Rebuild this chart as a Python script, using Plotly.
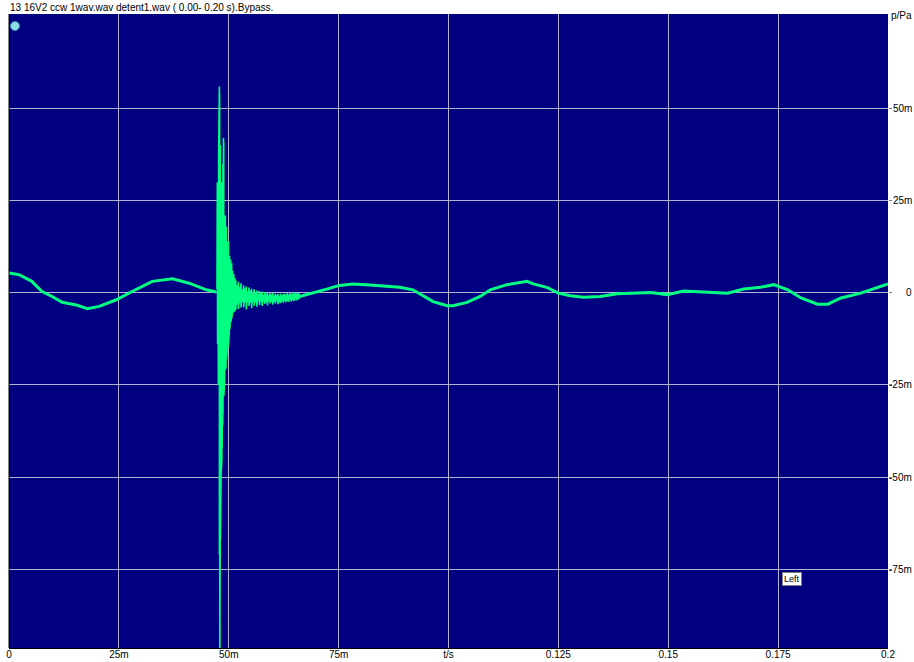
import plotly.graph_objects as go

# ---- data (time in ms, pressure in mPa) ----
pre_t = [0, 2.3, 5.2, 7.5, 9.8, 12.1, 15.3, 17.8, 20.5, 24.4, 28.0, 32.6, 37.2, 41.0, 44.9, 47.2]
pre_p = [5.4, 4.9, 3.1, 0.35, -1.0, -2.6, -3.3, -4.3, -3.7, -1.9, 0.35, 3.1, 3.8, 2.6, 0.8, 0.2]

# click burst: per-column max / min
burst_t = [47.32, 47.40, 47.46, 47.52, 47.58, 47.64, 47.70, 47.76, 47.82, 47.87, 47.92, 47.96,
           48.00, 48.05, 48.10, 48.15, 48.20, 48.26, 48.32, 48.38, 48.44, 48.50, 48.56, 48.62,
           48.68, 48.74, 48.80, 48.86, 48.92, 48.98, 49.04, 49.10, 49.16, 49.22, 49.30, 49.38,
           49.46, 49.54, 49.62, 49.70, 49.78, 49.86, 49.94, 50.02, 50.10, 50.18, 50.30, 50.42,
           50.54, 50.66, 50.78, 50.90, 51.02, 51.14, 51.26, 51.40]
burst_hi = [1, 30, 30, 28, 26, 20, 38, 45, 50, 56, 54, 52,
            50, 46, 40, 38, 35, 32, 30, 28, 25, 22, 20, 28,
            35, 40, 42, 41, 38, 20, 15, 17, 19, 21, 21, 20,
            18, 14, 11, 10, 13, 14, 14, 12, 11, 10, 9.5, 9,
            8.5, 8, 6.5, 6, 5.5, 5, 4.5, 4]
burst_lo = [-1, -13, -14, -12, -14, -25, -58, -66, -70, -71, -72, -105,
            -70, -69, -67, -62, -52, -48, -48, -46, -45, -42, -40, -36,
            -33, -30, -28, -28, -27, -26, -25, -22, -21, -21, -21, -20,
            -18, -17, -16, -15, -15, -15, -14, -12, -11, -10, -9, -8,
            -7.5, -7, -6, -5.5, -5, -5.2, -4.8, -5]

# decaying ring-out after the click
tail_t = [51.6, 51.9, 52.2, 52.5, 52.8, 53.1, 53.4, 53.7, 54.0, 54.3, 54.6, 54.9, 55.2, 55.5,
          55.8, 56.1, 56.4, 56.7, 57.0, 57.3, 57.6, 57.9, 58.2, 58.5, 58.8, 59.1, 59.4, 59.7,
          60.0, 60.3, 60.6, 60.9, 61.2, 61.5, 61.8, 62.1, 62.4, 62.7, 63.0, 63.3, 63.6, 63.9,
          64.2, 64.5, 64.8, 65.1, 65.4, 65.7, 66.0]
tail_hi = [3.4, 2.1, 3.0, 1.6, 2.6, 0.9, 2.0, 1.2, 1.7, 0.4, 1.4, 0.6, 1.1, -0.2,
           0.9, 0.1, 0.6, -0.4, 0.5, 0.0, 0.3, -0.6, 0.2, -0.3, 0.1, -0.7, -0.1, -0.5,
           0.0, -0.8, -0.2, -0.6, -0.3, -0.9, -0.2, -0.7, -0.4, -0.2, -0.6, -0.1, -0.5, 0.0,
           -0.4, -0.1, -0.3, 0.1, -0.2, 0.0, -0.1]
tail_lo = [-4.6, -3.2, -4.4, -2.8, -4.0, -2.5, -3.9, -2.6, -4.5, -2.4, -3.6, -2.7, -4.2, -2.3,
           -3.5, -2.6, -3.8, -2.2, -3.3, -2.5, -3.6, -2.4, -3.0, -2.6, -3.4, -2.3, -2.9, -2.5,
           -3.2, -2.4, -2.9, -2.2, -3.1, -2.6, -2.8, -2.3, -2.7, -2.1, -2.6, -2.2, -2.5, -1.9,
           -2.4, -2.0, -2.3, -1.8, -2.1, -1.7, -1.8]

post_t = [66.13, 69.1, 72.3, 75.2, 78.2, 82.1, 86.0, 88.9, 91.9, 94.2, 96.5, 99.7, 101.0, 104.2,
          107.2, 109.5, 113.3, 117.9, 119.3, 122.5, 125.0, 127.7, 130.7, 134.5, 138.4, 146.0,
          149.8, 153.5, 157.4, 163.5, 167.2, 171.0, 174.0, 177.2, 180.2, 184.0, 186.3, 189.3,
          193.8, 197.7, 199.5, 200.0]
post_p = [-1.0, -0.1, 1.0, 2.0, 2.4, 2.1, 1.7, 1.5, 0.8, -0.8, -2.4, -3.5, -3.5, -2.6,
          -1.0, 0.8, 2.2, 3.1, 2.4, 1.4, -0.1, -0.8, -1.2, -1.0, -0.3, 0.1,
          -0.5, 0.5, 0.2, -0.1, 1.0, 1.5, 2.2, 0.8, -1.4, -3.1, -3.1, -1.4,
          -0.1, 1.5, 2.4, 2.4]

x_tickvals = [0, 25, 50, 75, 100, 125, 150, 175, 200]
x_ticktext = ["0", "25m", "50m", "75m", "t/s", "0.125", "0.15", "0.175", "0.2"]
y_tickvals = [-75, -50, -25, 0, 25, 50]
y_ticktext = ["-75m", "-50m", "-25m", "0", "25m", "50m"]

title_text = "13 16V2 ccw 1wav.wav detent1.wav ( 0.00- 0.20 s).Bypass."
unit_text = "p/Pa"
channel_text = "Left"
channel_pos = (178.1, -77.7)

# ---- build burst + tail as min/max strokes ----
zx, zy = [], []
for t, hi, lo in zip(burst_t + tail_t, burst_hi + tail_hi, burst_lo + tail_lo):
    zx += [t, t]
    zy += [hi, lo]

GREEN = "#00FF80"
FONT = "Liberation Sans"

fig = go.Figure()
fig.add_trace(go.Scatter(x=pre_t, y=pre_p, mode="lines",
                         line=dict(color=GREEN, width=3), hoverinfo="skip"))
fig.add_trace(go.Scatter(x=zx, y=zy, mode="lines",
                         line=dict(color=GREEN, width=1.6), hoverinfo="skip"))
fig.add_trace(go.Scatter(x=post_t, y=post_p, mode="lines",
                         line=dict(color=GREEN, width=3), hoverinfo="skip"))

grid = "#B4B4D2"
fig.update_layout(
    width=914, height=662,
    margin=dict(l=9, r=26, t=14, b=14, autoexpand=False),
    paper_bgcolor="white", plot_bgcolor="#000080",
    showlegend=False,
    font=dict(family=FONT, size=10, color="black"),
    xaxis=dict(range=[0, 200], tickvals=x_tickvals, ticktext=x_ticktext,
               showgrid=True, gridcolor=grid, gridwidth=1, zeroline=False,
               showline=True, linecolor="black", linewidth=1, automargin=False,
               ticks="", ticklabelstandoff=-3,
               tickfont=dict(family=FONT, size=10, color="black"), fixedrange=True),
    yaxis=dict(range=[-96.4, 75.65], tickvals=y_tickvals, showticklabels=False,
               side="right", showgrid=True, gridcolor=grid, gridwidth=1, zeroline=False,
               showline=False, ticks="outside", ticklen=3, tickcolor="#808080",
               automargin=False, fixedrange=True),
)

annotations = []
for v, txt in zip(y_tickvals, y_ticktext):
    annotations.append(dict(x=1, xref="paper", xanchor="right", xshift=26,
                            y=v, yref="y", yanchor="middle", text=txt, showarrow=False,
                            font=dict(family=FONT, size=10, color="black")))
annotations.append(dict(x=0, xref="paper", xanchor="left", xshift=-1,
                        y=1, yref="paper", yanchor="middle", yshift=7,
                        text=title_text, showarrow=False,
                        font=dict(family=FONT, size=10, color="black")))
annotations.append(dict(x=1, xref="paper", xanchor="right", xshift=26,
                        y=1, yref="paper", yanchor="middle", yshift=-1,
                        text=unit_text, showarrow=False,
                        font=dict(family=FONT, size=10, color="black")))
annotations.append(dict(x=channel_pos[0], y=channel_pos[1], xref="x", yref="y",
                        text=channel_text, showarrow=False, bgcolor="white",
                        bordercolor="#808080", borderwidth=1, borderpad=1,
                        font=dict(family=FONT, size=9, color="black")))
fig.update_layout(annotations=annotations)

fig.add_shape(type="line", xref="paper", yref="paper", x0=0, x1=0, y0=0, y1=1,
              line=dict(color="black", width=1))
fig.add_shape(type="circle", xref="paper", yref="paper", xsizemode="pixel", ysizemode="pixel",
              xanchor=0, yanchor=1, x0=1.5, x1=10.5, y0=-7.5, y1=-16.5,
              fillcolor="#8FDCE8", line=dict(color="#3E8FA0", width=1))

fig.write_html("out.html")
